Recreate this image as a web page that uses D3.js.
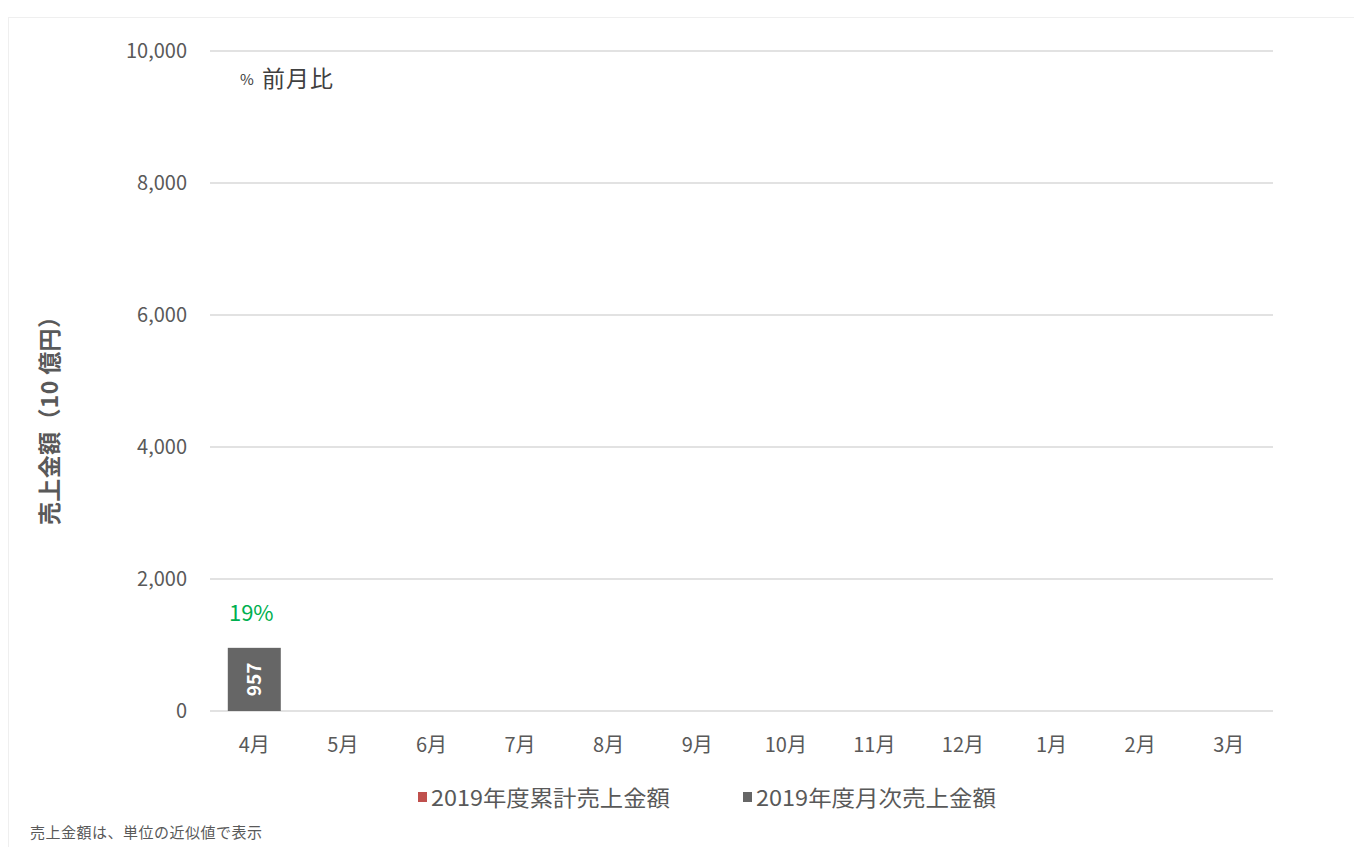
<!DOCTYPE html>
<html><head><meta charset="utf-8">
<script src="https://cdn.jsdelivr.net/npm/d3@7"></script>
<style>
body{margin:0;background:#fff;}
text{font-family:"Noto Sans CJK JP","Noto Sans",sans-serif;}
</style></head>
<body><svg id="c" width="1354" height="847"></svg>
<script>
const months = ["4月","5月","6月","7月","8月","9月","10月","11月","12月","1月","2月","3月"];
const cumulativeSales = [null,null,null,null,null,null,null,null,null,null,null,null];
const monthlySales = [957,null,null,null,null,null,null,null,null,null,null,null];
const momPct = ["19%",null,null,null,null,null,null,null,null,null,null,null];
const yTicks = [0,2000,4000,6000,8000,10000];
const seriesNames = ["2019年度累計売上金額","2019年度月次売上金額"];
const seriesColors = ["#c0504d","#666666"];

const svg = d3.select("#c");
svg.append("rect").attr("x",8.5).attr("y",17.5).attr("width",1360).attr("height",840)
  .attr("fill","none").attr("stroke","#efefef").attr("stroke-width",1);

const y = d3.scaleLinear().domain([0,10000]).range([711,51]);
const xb = d3.scaleBand().domain(months).range([210,1273]);

svg.append("g").selectAll("line").data(yTicks).join("line")
  .attr("x1",210).attr("x2",1273).attr("y1",d=>y(d)).attr("y2",d=>y(d))
  .attr("stroke","#d9d9d9").attr("stroke-width",1.3);

svg.append("g").selectAll("text").data(yTicks).join("text")
  .attr("x",187).attr("y",d=>y(d)).attr("dy","0.35em").attr("text-anchor","end")
  .attr("fill","#595959").attr("font-size",20).text(d3.format(","));

svg.append("g").selectAll("text").data(months).join("text")
  .attr("x",d=>xb(d)+xb.bandwidth()/2).attr("y",745).attr("dy","0.35em").attr("text-anchor","middle")
  .attr("fill","#595959").attr("font-size",20).text(d=>d);

const bw = 53;
const barData = months.map((m,i)=>({m,v:monthlySales[i],p:momPct[i]})).filter(d=>d.v!=null);
svg.append("g").selectAll("rect").data(barData).join("rect")
  .attr("x",d=>xb(d.m)+xb.bandwidth()/2-bw/2).attr("width",bw)
  .attr("y",d=>y(d.v)).attr("height",d=>y(0)-y(d.v)).attr("fill",seriesColors[1]);

svg.append("g").selectAll("text").data(barData).join("text")
  .attr("transform",d=>`translate(${xb(d.m)+xb.bandwidth()/2},${(y(d.v)+y(0))/2}) rotate(-90)`)
  .attr("text-anchor","middle").attr("dy","0.35em").attr("fill","#fff").attr("font-weight","bold")
  .attr("font-size",19).text(d=>d3.format(",")(d.v));

svg.append("g").selectAll("text").data(barData.filter(d=>d.p!=null)).join("text")
  .attr("x",d=>xb(d.m)+xb.bandwidth()/2-3).attr("y",d=>y(d.v)-35).attr("dy","0.35em").attr("text-anchor","middle")
  .attr("fill","#00b050").attr("font-size",22).text(d=>d.p);

svg.append("text").attr("x",262).attr("y",79).attr("dy","0.35em").attr("fill","#404040").attr("font-size",23)
  .attr("textLength",71).text("前月比");
svg.append("text").attr("x",240).attr("y",80).attr("dy","0.35em").attr("fill","#404040").attr("font-size",15).text("%");

svg.append("text").attr("transform","translate(50,415) rotate(-90)").attr("text-anchor","middle").attr("dy","0.35em")
  .attr("fill","#595959").attr("font-weight","bold").attr("font-size",23).attr("textLength",220).text("売上金額（10 億円）");

const legX = [418,743];
seriesNames.forEach((n,i)=>{
  svg.append("rect").attr("x",legX[i]).attr("y",792).attr("width",9).attr("height",10).attr("fill",seriesColors[i]);
  svg.append("text").attr("x",legX[i]+13).attr("y",798).attr("dy","0.35em").attr("fill","#595959").attr("font-size",22)
    .attr("textLength",i==0?239:240).attr("lengthAdjust","spacingAndGlyphs").text(n);
});

svg.append("text").attr("x",30).attr("y",833).attr("dy","0.35em").attr("fill","#595959").attr("font-size",15)
  .attr("textLength",232).text("売上金額は、単位の近似値で表示");
</script></body></html>
